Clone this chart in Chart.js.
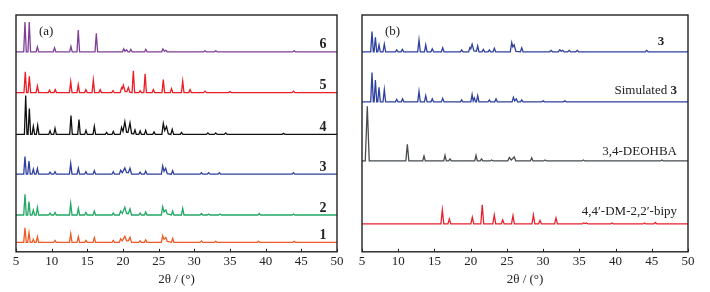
<!DOCTYPE html>
<html><head><meta charset="utf-8">
<script src="https://cdn.jsdelivr.net/npm/chart.js@4.4.1/dist/chart.umd.min.js"></script>
<style>
html,body{margin:0;padding:0;background:#fff;}
#wrap{position:relative;width:710px;height:292px;}
canvas{position:absolute;top:0;}
#ca{left:0;}
#cb{left:350px;}
</style></head><body>
<div id="wrap"><canvas id="ca" width="350" height="292"></canvas><canvas id="cb" width="360" height="292"></canvas></div>
<script>
// x tick labels (2θ, degrees)
const xTicks = [5,10,15,20,25,30,35,40,45,50];

// ---- Panel (a): samples 1-6, [2θ, intensity] ----
const s1 = [[5,0],[6.08,0],[6.26,14.7],[6.44,0],[6.64,0],[6.82,9.7],[7.0,0],[7.25,0],[7.43,3],[7.61,0],[7.82,0],[8.0,5.7],[8.18,0],[10.29,0],[10.47,2],[10.65,0],[12.49,0],[12.67,8.7],[12.85,0],[13.56,0],[13.74,5.7],[13.92,0],[14.62,0],[14.8,2],[14.98,0],[15.8,0],[15.98,4.7],[16.16,0],[18.46,0],[18.64,2],[18.82,0],[19.49,0],[19.67,3.5],[19.9,1.5],[20.26,6],[20.5,1.5],[20.75,1.5],[20.98,5],[21.2,0],[22.22,0],[22.4,1.5],[22.58,0],[23.0,0],[23.18,2.5],[23.36,0],[25.38,0],[25.56,6.7],[25.75,3],[26.0,5],[26.2,1],[26.78,0],[26.96,4],[27.14,0],[30.8,0],[31,1.5],[31.2,0],[32.8,0],[33,1],[33.2,0],[38.8,0],[39,1],[39.2,0],[43.8,0],[44,1],[44.2,0],[50,0]];
const s2 = [[5,0],[6.08,0],[6.26,20.7],[6.44,0],[6.64,0],[6.82,13.4],[7.0,0],[7.25,0],[7.43,5],[7.61,0],[7.82,0],[8.0,7.7],[8.18,0],[9.59,0],[9.77,2],[9.95,0],[10.29,0],[10.47,2.5],[10.65,0],[12.49,0],[12.67,11.7],[12.85,0],[13.56,0],[13.74,6.7],[13.92,0],[14.62,0],[14.8,2.5],[14.98,0],[15.8,0],[15.98,4],[16.16,0],[18.46,0],[18.64,2],[18.82,0],[19.49,0],[19.67,4],[19.9,1.5],[20.26,7.7],[20.5,1.5],[20.75,1.5],[20.98,6],[21.2,0],[22.22,0],[22.4,2],[22.58,0],[23.0,0],[23.18,3],[23.36,0],[25.38,0],[25.56,8.3],[25.75,3],[26.0,5],[26.2,1],[26.78,0],[26.96,4],[27.14,0],[28.19,0],[28.37,6.7],[28.55,0],[30.8,0],[31,1.5],[31.2,0],[31.8,0],[32,1],[32.2,0],[33.4,0],[33.6,1],[33.8,0],[38.9,0],[39.1,1.5],[39.3,0],[43.7,0],[43.9,1],[44.1,0],[50,0]];
const s3 = [[5,0],[6.08,0],[6.26,17.7],[6.44,0],[6.64,0],[6.82,13.3],[7.0,0],[7.25,0],[7.43,5],[7.61,0],[7.82,0],[8.0,5.7],[8.18,0],[9.59,0],[9.77,2],[9.95,0],[10.29,0],[10.47,2.5],[10.65,0],[12.49,0],[12.67,10.7],[12.85,0],[13.56,0],[13.74,6],[13.92,0],[14.62,0],[14.8,2.5],[14.98,0],[15.8,0],[15.98,3.5],[16.16,0],[18.46,0],[18.64,2.5],[18.82,0],[19.49,0],[19.67,4],[19.9,1.5],[20.26,6.3],[20.5,1.5],[20.75,1.5],[20.98,6],[21.2,0],[22.22,0],[22.4,2],[22.58,0],[23.0,0],[23.18,3],[23.36,0],[25.38,0],[25.56,8.3],[25.75,3],[25.98,6],[26.2,0.5],[26.78,0],[26.96,3.5],[27.14,0],[30.8,0],[31,1.5],[31.2,0],[31.8,0],[32,1.5],[32.2,0],[33.3,0],[33.5,1.5],[33.7,0],[43.7,0],[43.9,1.5],[44.1,0],[50,0]];
const s4 = [[5,0],[6.18,0],[6.36,39],[6.54,0],[6.69,0],[6.87,26],[7.05,0],[7.25,0],[7.43,8],[7.61,0],[7.86,0],[8.04,9],[8.22,0],[9.59,0],[9.77,3.5],[9.95,0],[10.29,0],[10.47,6],[10.65,0],[12.53,0],[12.71,19],[12.89,0],[13.65,0],[13.83,15],[14.01,0],[14.63,0],[14.81,4],[14.99,0],[15.8,0],[15.98,8],[16.16,0],[17.52,0],[17.7,2],[17.88,0],[18.46,0],[18.64,3],[18.82,0],[19.6,0],[19.8,7],[20.0,3],[20.26,12.7],[20.5,2],[20.7,2],[20.98,11.5],[21.2,1],[21.5,0.5],[21.68,4.5],[21.86,0],[22.22,0],[22.4,3.5],[22.58,0],[23.0,0],[23.18,4],[23.36,0],[24.17,0],[24.35,2.5],[24.53,0],[25.45,0],[25.65,11],[25.85,4],[26.1,8],[26.35,0.5],[26.7,0],[26.9,5],[27.1,0],[28.02,0],[28.2,2],[28.38,0],[31.7,0],[31.9,1.5],[32.1,0],[32.8,0],[33,1.5],[33.2,0],[34.2,0],[34.4,1.5],[34.6,0],[42.3,0],[42.5,1],[42.7,0],[50,0]];
const s5 = [[5,0],[6.12,0],[6.3,21],[6.48,0],[6.69,0],[6.87,16.5],[7.05,0],[7.82,0],[8.0,6.5],[8.18,0],[9.52,0],[9.7,2.5],[9.88,0],[10.32,0],[10.5,3],[10.68,0],[12.49,0],[12.67,11],[12.85,0],[13.55,0],[13.73,8],[13.91,0],[14.62,0],[14.8,3],[14.98,0],[15.66,0],[15.84,12.5],[16.02,0],[16.62,0],[16.8,3],[16.98,0],[18.42,0],[18.6,2],[18.78,0],[19.6,0],[19.8,5],[19.92,4],[20.05,7.5],[20.3,1],[20.55,1],[20.75,5],[20.95,0.5],[21.27,0],[21.45,22],[21.63,0],[22.22,0],[22.4,2],[22.58,0],[22.92,0],[23.1,19],[23.28,0],[24.07,0],[24.25,3],[24.43,0],[25.47,0],[25.65,13],[25.83,0],[26.62,0],[26.8,4],[26.98,0],[28.19,0],[28.37,11.5],[28.55,0],[29.22,0],[29.4,3],[29.58,0],[31.3,0],[31.5,1.5],[31.7,0],[34.8,0],[35,1],[35.2,0],[43.7,0],[43.9,1.5],[44.1,0],[50,0]];
const s6 = [[5,0],[6.08,0],[6.26,30],[6.44,0],[6.68,0],[6.86,30],[7.04,0],[7.82,0],[8.0,5],[8.18,0],[10.22,0],[10.4,4],[10.58,0],[12.52,0],[12.7,5.5],[12.88,0],[13.55,0],[13.73,22],[13.91,0],[16.08,0],[16.26,18.5],[16.44,0],[19.92,0],[20.1,3],[20.28,0.5],[20.5,2],[20.7,0],[20.92,0],[21.1,2.5],[21.28,0],[23.02,0],[23.2,2.5],[23.38,0],[25.42,0],[25.6,3],[25.8,0.5],[26.0,1.5],[26.2,0],[31.3,0],[31.5,1],[31.7,0],[32.8,0],[33,1],[33.2,0],[43.8,0],[44,1],[44.2,0],[50,0]];
const seriesA = [s1, s2, s3, s4, s5, s6];
const namesA = ['1','2','3','4','5','6'];
const offsetsA = [9.5, 37, 78, 118, 160, 201];

// ---- Panel (b) ----
const b3 = [[5,0],[6.2,0],[6.38,20.3],[6.56,0],[6.67,0],[6.85,14.7],[7.03,0],[7.17,0],[7.35,7],[7.53,0],[7.9,0],[8.08,7.7],[8.26,0],[9.61,0],[9.79,2],[9.97,0],[10.39,0],[10.57,2.5],[10.75,0],[12.69,0],[12.87,12],[13.05,0],[13.62,0],[13.8,7],[13.98,0],[14.52,0],[14.7,3],[14.88,0],[15.96,0],[16.14,4],[16.32,0],[18.58,0],[18.76,2],[18.94,0],[19.72,0],[19.9,4.3],[20.02,3],[20.2,7.7],[20.45,1],[20.79,0.5],[20.97,6],[21.15,0],[21.57,0],[21.75,2.5],[21.93,0],[22.4,0],[22.58,2],[22.76,0],[23.09,0],[23.27,3.5],[23.45,0],[25.47,0],[25.67,9.3],[25.82,5],[26.0,7],[26.25,0.5],[26.87,0],[27.05,4],[27.23,0],[30.9,0],[31.1,1.5],[31.3,0],[32.1,0],[32.3,2],[32.5,0.5],[32.7,1.5],[32.9,0],[33.4,0],[33.6,1.5],[33.8,0],[34.5,0],[34.7,1.5],[34.9,0],[44.1,0],[44.3,1.5],[44.5,0],[50,0]];
const sim3 = [[5,0],[6.2,0],[6.38,29.6],[6.56,0],[6.67,0],[6.85,22],[7.03,0],[7.17,0],[7.35,14.6],[7.53,0],[7.9,0],[8.08,12.3],[8.26,0],[9.61,0],[9.79,2.5],[9.97,0],[10.42,0],[10.6,3],[10.78,0],[12.69,0],[12.87,10.6],[13.05,0],[13.62,0],[13.8,6.3],[13.98,0],[14.52,0],[14.7,3],[14.88,0],[15.96,0],[16.14,3.5],[16.32,0],[18.58,0],[18.76,2],[18.94,0],[20.02,0],[20.2,7.3],[20.35,1],[20.5,4],[20.68,0],[20.79,0],[20.97,6.3],[21.15,0],[22.4,0],[22.58,2],[22.76,0],[23.32,0],[23.5,3],[23.68,0],[25.72,0],[25.9,4.6],[26.08,1],[26.3,3],[26.48,0],[26.87,0],[27.05,2],[27.23,0],[29.8,0],[30,1],[30.2,0],[32.8,0],[33,1],[33.2,0],[50,0]];
const deohba = [[5,0],[5.45,0],[5.73,55],[6.0,0],[11.05,0],[11.26,16.7],[11.47,0],[13.38,0],[13.56,5],[13.74,0],[16.28,0],[16.46,5.7],[16.64,0],[16.97,0],[17.15,2],[17.33,0],[20.56,0],[20.74,5.7],[20.92,0],[21.32,0],[21.5,2],[21.68,0],[22.7,0],[22.9,1],[23.1,0],[25.13,0],[25.33,3.5],[25.6,1],[26.02,4],[26.22,0],[28.24,0],[28.42,3],[28.6,0],[30.06,0],[30.26,1],[30.46,0],[35.35,0],[35.55,1],[35.75,0],[46.2,0],[46.4,1],[46.6,0],[50,0]];
const bipy = [[5,0],[15.89,0],[16.09,14],[16.29,0],[16.86,0],[17.06,5],[17.26,0],[20.03,0],[20.23,6.7],[20.43,0],[21.4,0],[21.6,19.3],[21.8,0],[23.06,0],[23.26,9],[23.46,0],[24.22,0],[24.42,4],[24.62,0],[25.64,0],[25.84,8.3],[26.04,0],[28.46,0],[28.66,9],[28.86,0],[29.37,0],[29.57,3.5],[29.77,0],[31.58,0],[31.78,6],[31.98,0],[35.4,0],[35.6,1],[35.8,0.3],[36,1],[36.2,0],[39.3,0],[39.5,1],[39.7,0],[43.8,0],[44,1],[44.2,0],[45.3,0],[45.5,1.5],[45.7,0],[50,0]];
const seriesB = [bipy, deohba, sim3, b3];
const namesB = ['4,4\u2032-DM-2,2\u2032-bipy', '3,4-DEOHBA', 'Simulated 3', '3'];
const offsetsB = [28, 91.3, 150.7, 201];

const colorsA = ['#f15a24', '#22a865', '#2f3f9e', '#111111', '#ec1c24', '#7f3f98'];
const colorsB = ['#e8202c', '#454b4e', '#2e40a0', '#2e40a0'];

const SERIF = '"Liberation Serif", "DejaVu Serif", serif';

function frameAndTicks(panelLabel, labelDraw) {
  return {
    id: 'frame',
    afterDatasetsDraw(chart) {
      const {ctx, chartArea: a, scales: {x, y}} = chart;
      ctx.save();
      ctx.strokeStyle = '#222';
      ctx.lineWidth = 1.4;
      ctx.strokeRect(a.left, a.top, a.right - a.left, a.bottom - a.top);
      ctx.lineWidth = 1;
      ctx.beginPath();
      xTicks.forEach(v => {
        const px = Math.round(x.getPixelForValue(v)) + 0.5;
        ctx.moveTo(px, a.bottom); ctx.lineTo(px, a.bottom - 3);
      });
      ctx.stroke();
      ctx.fillStyle = '#222';
      ctx.font = '13px ' + SERIF;
      ctx.textBaseline = 'middle';
      ctx.textAlign = 'left';
      ctx.fillText(panelLabel, a.left + 23, a.top + 17);
      labelDraw(ctx, a, x, y);
      ctx.restore();
    }
  };
}

function makeChart(id, series, offsets, colors, pad, plugin) {
  return new Chart(document.getElementById(id), {
    type: 'line',
    data: {
      datasets: series.map((s, i) => ({
        data: s.map(p => ({x: p[0], y: p[1] + offsets[i]})),
        borderColor: colors[i],
        borderWidth: 1.3,
        pointRadius: 0,
        tension: 0,
        fill: false
      }))
    },
    options: {
      responsive: false,
      animation: false,
      devicePixelRatio: 1,
      layout: {padding: pad},
      plugins: {legend: {display: false}, tooltip: {enabled: false}},
      scales: {
        x: {
          type: 'linear', min: 5, max: 50,
          afterBuildTicks: sc => { sc.ticks = xTicks.map(v => ({value: v})); },
          ticks: {font: {family: SERIF, size: 13}, color: '#222', padding: 2, maxRotation: 0, autoSkip: false},
          grid: {display: false, drawTicks: false, tickLength: 0},
          border: {display: false},
          title: {display: true, text: '2\u03b8 / (\u00b0)', font: {family: SERIF, size: 13}, color: '#222', padding: {top: 0, bottom: 4}}
        },
        y: {display: false, min: 0, max: 238}
      }
    },
    plugins: [plugin]
  });
}

makeChart('ca', seriesA, offsetsA, colorsA, {left: 16, right: 13, top: 15, bottom: 1},
  frameAndTicks('(a)', (ctx, a, x, y) => {
    ctx.font = 'bold 14px ' + SERIF;
    ctx.textAlign = 'center';
    namesA.forEach((n, i) => ctx.fillText(n, a.right - 14, y.getPixelForValue(offsetsA[i] + 7)));
  }));

makeChart('cb', seriesB, offsetsB, colorsB, {left: 12, right: 22, top: 15, bottom: 1},
  frameAndTicks('(b)', (ctx, a, x, y) => {
    ctx.textAlign = 'right';
    const r = a.right - 11;
    ctx.font = '13px ' + SERIF;
    ctx.fillText(namesB[0], r, y.getPixelForValue(offsetsB[0] + 12));
    ctx.fillText(namesB[1], r, y.getPixelForValue(offsetsB[1] + 9.5));
    // "Simulated 3" with bold numeral
    ctx.font = 'bold 13px ' + SERIF;
    const w3 = ctx.measureText('3').width;
    ctx.fillText('3', r, y.getPixelForValue(offsetsB[2] + 11.5));
    ctx.font = '13px ' + SERIF;
    ctx.fillText('Simulated ', r - w3, y.getPixelForValue(offsetsB[2] + 11.5));
    ctx.font = 'bold 13px ' + SERIF;
    ctx.textAlign = 'center';
    ctx.fillText(namesB[3], r - 16, y.getPixelForValue(offsetsB[3] + 10));
  }));
</script>
</body></html>
